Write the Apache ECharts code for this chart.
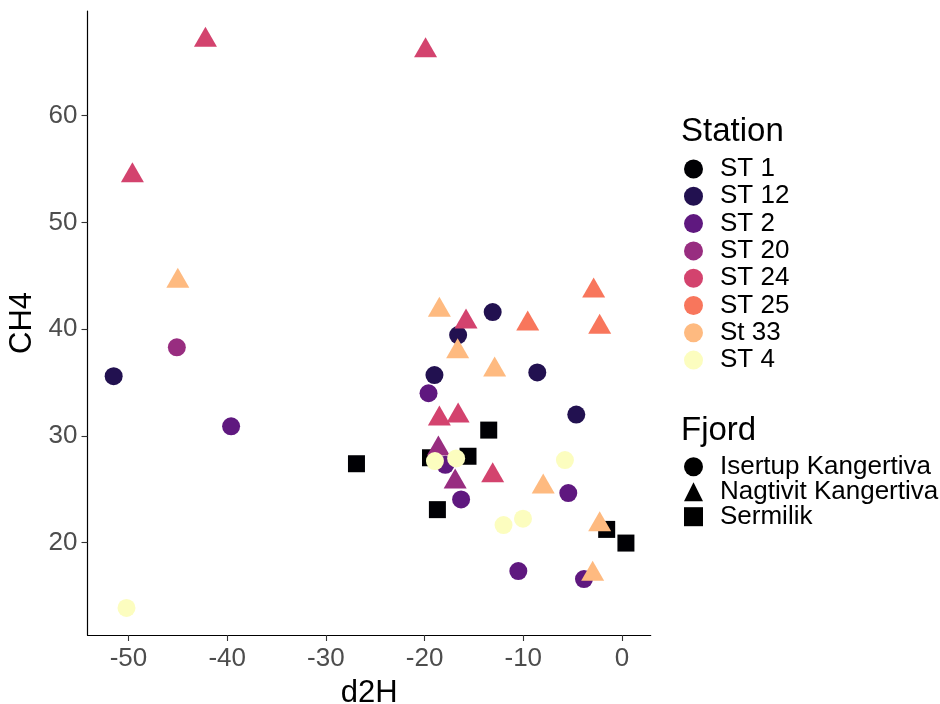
<!DOCTYPE html>
<html><head><meta charset="utf-8">
<script src="https://cdn.jsdelivr.net/npm/echarts@6/dist/echarts.min.js"></script>
<style>html,body{margin:0;padding:0;background:#fff}#c{width:940px;height:704px}</style>
</head><body><div id="c"></div>
<script>
// ---- data ----
const stations = ['ST 1','ST 12','ST 2','ST 20','ST 24','ST 25','St 33','ST 4'];
const stationColors = ['#000004','#221150','#5F187F','#982D80','#D3436E','#F8765C','#FEBA80','#FCFDBF'];
const fjords = ['Isertup Kangertiva','Nagtivit Kangertiva','Sermilik'];
const xTicks = [-50,-40,-30,-20,-10,0];
const yTicks = [20,30,40,50,60];

// fjord code: 0 = Isertup Kangertiva, 1 = Nagtivit Kangertiva, 2 = Sermilik
const d2H_ST1  = [-26.9,-13.5,-19.4,-15.6,-18.7,-1.55,0.4];
const CH4_ST1  = [27.4,30.55,27.96,28.1,23.1,21.25,19.97];
const fj_ST1   = [2,2,2,2,2,2,2];

const d2H_ST12 = [-51.5,-13.1,-16.6,-8.58,-19.0,-4.63];
const CH4_ST12 = [35.6,41.6,39.45,35.95,35.7,32.0];
const fj_ST12  = [0,0,0,0,0,0];

const d2H_ST2  = [-39.6,-19.6,-17.9,-5.44,-16.3,-10.5,-3.85];
const CH4_ST2  = [30.9,34.0,27.3,24.65,24.06,17.35,16.6];
const fj_ST2   = [0,0,0,0,0,0,0];

const d2H_ST20 = [-45.1,-18.6,-16.9];
const CH4_ST20 = [38.3,28.8,25.7];
const fj_ST20  = [0,1,1];

const d2H_ST24 = [-42.2,-49.6,-19.9,-15.8,-18.5,-16.6,-13.1];
const CH4_ST24 = [67.07,54.4,66.1,40.7,31.6,31.9,26.3];
const fj_ST24  = [1,1,1,1,1,1,1];

const d2H_ST25 = [-2.87,-9.55,-2.26];
const CH4_ST25 = [43.6,40.5,40.2];
const fj_ST25  = [1,1,1];

const d2H_St33 = [-45.0,-18.5,-16.65,-12.9,-7.98,-2.26,-2.97];
const CH4_St33 = [44.5,41.8,37.9,36.2,25.24,21.7,17.07];
const fj_St33  = [1,1,1,1,1,1,1];

const d2H_ST4  = [-50.2,-18.95,-16.8,-5.78,-10.03,-12.0];
const CH4_ST4  = [13.9,27.65,27.9,27.74,22.25,21.66];
const fj_ST4   = [0,0,0,0,0,0];

const stationData = [
  [d2H_ST1,CH4_ST1,fj_ST1],[d2H_ST12,CH4_ST12,fj_ST12],[d2H_ST2,CH4_ST2,fj_ST2],
  [d2H_ST20,CH4_ST20,fj_ST20],[d2H_ST24,CH4_ST24,fj_ST24],[d2H_ST25,CH4_ST25,fj_ST25],
  [d2H_St33,CH4_St33,fj_St33],[d2H_ST4,CH4_ST4,fj_ST4]
];

// ---- styling ----
const FONT = 'Liberation Sans, Arial, sans-serif';
const fjSymbol = ['circle','triangle','rect'];
const fjSize = [18,[23,20],17];
const fjOffset = [[0,0],[0,-3.3],[0,0]];

const series = stations.map((name,i)=>{
  const [xs,ys,fs] = stationData[i];
  return {
    name, type:'scatter',
    itemStyle:{color:stationColors[i], opacity:1},
    data: xs.map((x,k)=>({
      value:[x,ys[k]],
      symbol: fjSymbol[fs[k]],
      symbolSize: fjSize[fs[k]],
      symbolOffset: fjOffset[fs[k]]
    })),
    z: 2 + i
  };
});
fjords.forEach((name,i)=>{
  series.push({name, type:'scatter', symbol:fjSymbol[i], itemStyle:{color:'#000', opacity:1}, data:[]});
});

const chart = echarts.init(document.getElementById('c'), null, {renderer:'canvas'});
chart.setOption({
  animation:false,
  backgroundColor:'#fff',
  textStyle:{fontFamily:FONT},
  grid:{left:87.5, top:11, width:563.2, height:624, outerBoundsMode:'none', containLabel:false},
  xAxis:{
    type:'value', min:-54.15, max:2.91,
    name:'d2H', nameLocation:'middle', nameGap:43,
    nameTextStyle:{fontSize:31, color:'#000', fontFamily:FONT},
    splitLine:{show:false},
    axisLine:{show:true, onZero:false, lineStyle:{color:'#000', width:1.2}},
    axisTick:{show:true, length:6, customValues:xTicks, lineStyle:{color:'#333', width:1.1}},
    axisLabel:{customValues:xTicks, fontSize:26, color:'#4D4D4D', margin:11, fontFamily:FONT}
  },
  yAxis:{
    type:'value', min:11.36, max:69.8,
    name:'CH4', nameLocation:'middle', nameGap:41,
    nameTextStyle:{fontSize:31, color:'#000', fontFamily:FONT},
    splitLine:{show:false},
    axisLine:{show:true, onZero:false, lineStyle:{color:'#000', width:1.2}},
    axisTick:{show:true, length:6, customValues:yTicks, lineStyle:{color:'#333', width:1.1}},
    axisLabel:{customValues:yTicks, fontSize:26, color:'#4D4D4D', margin:10, fontFamily:FONT}
  },
  title:[
    {text:'Station', left:681, top:115, padding:0, textStyle:{fontSize:33, fontWeight:'normal', color:'#000', fontFamily:FONT}},
    {text:'Fjord', left:681, top:414, padding:0, textStyle:{fontSize:33, fontWeight:'normal', color:'#000', fontFamily:FONT}}
  ],
  legend:[
    {
      data: stations, orient:'vertical', left:684, top:156, padding:0,
      itemWidth:19, itemHeight:19, itemGap:1.3, icon:'circle',
      textStyle:{fontSize:26, color:'#000', fontFamily:FONT, padding:[0,0,0,12]},
      selectedMode:false
    },
    {
      data: fjords.map((n,i)=>({name:n, icon:fjSymbol[i], itemStyle:{color:'#000', opacity:1}})),
      orient:'vertical', left:684, top:453.7, padding:0,
      itemWidth:19, itemHeight:19, itemGap:-1,
      textStyle:{fontSize:26, color:'#000', fontFamily:FONT, padding:[0,0,0,12]},
      selectedMode:false
    }
  ],
  series
});
</script></body></html>
